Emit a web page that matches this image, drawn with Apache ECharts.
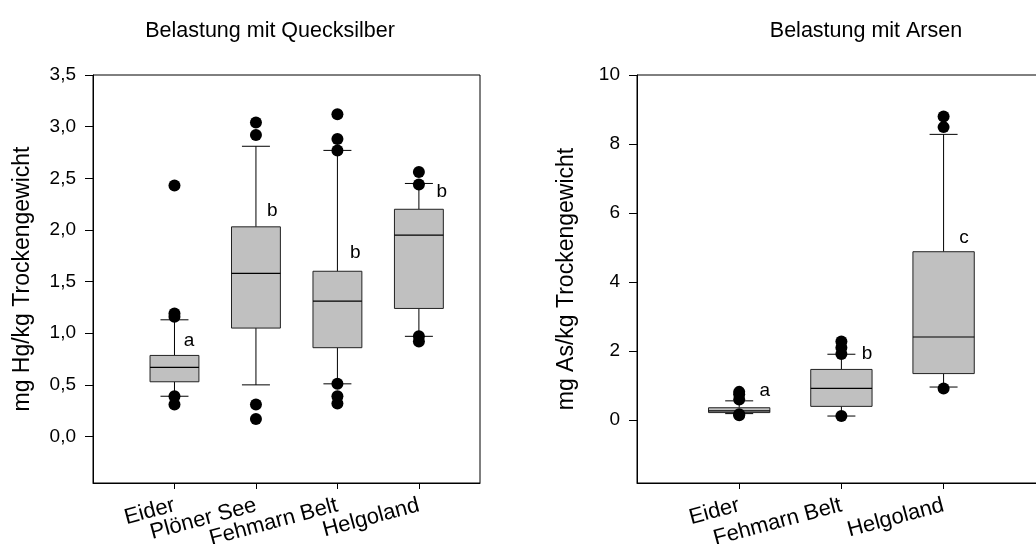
<!DOCTYPE html>
<html>
<head>
<meta charset="utf-8">
<script src="https://cdn.jsdelivr.net/npm/echarts@6/dist/echarts.min.js"></script>
<style>
html,body{margin:0;padding:0;background:#fff;}
#chart{width:1036px;height:544px;}
</style>
</head>
<body>
<div id="chart"></div>
<script>
// ---------- Data: Quecksilber (Hg) ----------
var hgTitle = 'Belastung mit Quecksilber';
var hgYName = 'mg Hg/kg Trockengewicht';
var hgCats = ['Eider', 'Plöner See', 'Fehmarn Belt', 'Helgoland'];
var hgLow  = [0.39, 0.50, 0.51, 0.97];
var hgQ1   = [0.53, 1.05, 0.86, 1.24];
var hgMed  = [0.67, 1.58, 1.31, 1.95];
var hgQ3   = [0.785, 2.03, 1.60, 2.20];
var hgHigh = [1.13, 2.81, 2.77, 2.45];
var hgOut  = [
  [2.43, 1.19, 1.16, 0.39, 0.31],
  [3.04, 2.92, 0.31, 0.17],
  [3.12, 2.88, 2.77, 0.51, 0.39, 0.32],
  [2.56, 2.44, 0.97, 0.92]
];
var hgLetters = ['a', 'b', 'b', 'b'];
var hgLetterX = [1.18, 2.20, 3.22, 4.28];
var hgLetterY = [0.93, 2.19, 1.78, 2.37];
var hgYTicks = [0, 0.5, 1.0, 1.5, 2.0, 2.5, 3.0, 3.5];

// ---------- Data: Arsen (As) ----------
var asTitle = 'Belastung mit Arsen';
var asYName = 'mg As/kg Trockengewicht';
var asCats = ['Eider', 'Fehmarn Belt', 'Helgoland'];
var asLow  = [0.19, 0.12, 0.96];
var asQ1   = [0.22, 0.40, 1.35];
var asMed  = [0.27, 0.92, 2.41];
var asQ3   = [0.36, 1.47, 4.88];
var asHigh = [0.56, 1.91, 8.28];
var asOut  = [
  [0.82, 0.75, 0.60, 0.17, 0.14],
  [2.28, 2.10, 1.92, 0.12],
  [8.80, 8.49, 0.92]
];
var asLetters = ['a', 'b', 'c'];
var asLetterX = [1.25, 2.25, 3.20];
var asLetterY = [0.84, 1.93, 5.28];
var asYTicks = [0, 2, 4, 6, 8, 10];

// ---------- Build ----------
var FONT = '"Liberation Sans", Arial, sans-serif';
var BOX_W = 0.6;   // in category units
var CAP_PX = 28;
var XLABEL_MARGIN = 22;
var XLABEL_ROT = 15 * Math.PI / 180;

function boxData(low, q1, med, q3, high) {
  return low.map(function (v, i) { return [i + 1, low[i], q1[i], med[i], q3[i], high[i]]; });
}
function outData(out) {
  var r = [];
  out.forEach(function (arr, i) { arr.forEach(function (v) { r.push([i + 1, v]); }); });
  return r;
}
function letterData(xs, ys, ls) {
  return xs.map(function (x, i) { return [x, ys[i], ls[i]]; });
}
function catData(cats, yMin) {
  return cats.map(function (c, i) { return [i + 1, yMin, c]; });
}
function renderBox(params, api) {
  var x = api.value(0);
  var lo = api.coord([x, api.value(1)]);
  var q1 = api.coord([x, api.value(2)]);
  var md = api.coord([x, api.value(3)]);
  var q3 = api.coord([x, api.value(4)]);
  var hi = api.coord([x, api.value(5)]);
  var w = api.size([BOX_W, 0])[0];
  var cx = lo[0];
  var ls = { stroke: '#000', lineWidth: 1 };
  return {
    type: 'group',
    children: [
      { type: 'line', shape: { x1: cx, y1: hi[1], x2: cx, y2: q3[1] }, style: ls },
      { type: 'line', shape: { x1: cx, y1: q1[1], x2: cx, y2: lo[1] }, style: ls },
      { type: 'line', shape: { x1: cx - CAP_PX / 2, y1: hi[1], x2: cx + CAP_PX / 2, y2: hi[1] }, style: ls },
      { type: 'line', shape: { x1: cx - CAP_PX / 2, y1: lo[1], x2: cx + CAP_PX / 2, y2: lo[1] }, style: ls },
      { type: 'rect', shape: { x: cx - w / 2, y: q3[1], width: w, height: q1[1] - q3[1] },
        style: { fill: '#c0c0c0', stroke: '#222', lineWidth: 1 } },
      { type: 'line', shape: { x1: cx - w / 2, y1: md[1], x2: cx + w / 2, y2: md[1] }, style: { stroke: '#000', lineWidth: 1.2 } }
    ]
  };
}
function renderLetter(params, api) {
  var p = api.coord([api.value(0), api.value(1)]);
  return {
    type: 'text',
    style: { x: p[0], y: p[1], text: api.value(2), fill: '#000', font: '19px ' + FONT,
      textAlign: 'center', textVerticalAlign: 'middle' }
  };
}
function renderCatLabel(params, api) {
  var p = api.coord([api.value(0), api.value(1)]);
  return {
    type: 'text',
    x: p[0], y: p[1] + XLABEL_MARGIN, rotation: XLABEL_ROT,
    style: { text: api.value(2), fill: '#000', font: '22px ' + FONT,
      textAlign: 'right', textVerticalAlign: 'middle' }
  };
}
function fmtComma(v) { return v.toFixed(1).replace('.', ','); }

function xAxisCfg(gridIndex, max, cats) {
  var vals = cats.map(function (c, i) { return i + 1; });
  return {
    type: 'value', gridIndex: gridIndex, min: 0, max: max,
    splitLine: { show: false },
    axisLine: { show: true, onZero: false, lineStyle: { color: '#000', width: 1 } },
    axisTick: { show: true, inside: false, length: 6, customValues: vals, lineStyle: { color: '#000' } },
    axisLabel: { show: false }
  };
}
function yAxisCfg(gridIndex, min, max, ticks, name, fmt) {
  return {
    type: 'value', gridIndex: gridIndex, min: min, max: max,
    name: name, nameLocation: 'middle', nameGap: 59,
    nameTextStyle: { color: '#000', fontSize: 23, fontFamily: FONT },
    splitLine: { show: false },
    axisLine: { show: true, lineStyle: { color: '#000', width: 1 } },
    axisTick: { show: true, inside: false, length: 8, customValues: ticks, lineStyle: { color: '#000' } },
    axisLabel: { show: true, customValues: ticks, margin: 17, hideOverlap: false,
      showMinLabel: true, showMaxLabel: true, color: '#000', fontSize: 19, fontFamily: FONT,
      formatter: fmt }
  };
}

var HG_YMIN = -0.45, HG_YMAX = 3.5;
var AS_YMIN = -1.82, AS_YMAX = 10;

var chart = echarts.init(document.getElementById('chart'), null, { renderer: 'canvas' });
var option = {
  animation: false,
  backgroundColor: '#fff',
  graphic: [
    { type: 'text', x: 270, y: 31,
      style: { text: hgTitle, fill: '#000', font: '21.5px ' + FONT, textAlign: 'center', textVerticalAlign: 'middle' } },
    { type: 'text', x: 866, y: 31,
      style: { text: asTitle, fill: '#000', font: '21.5px ' + FONT, textAlign: 'center', textVerticalAlign: 'middle' } }
  ],
  grid: [
    { left: 93, top: 75, width: 387, height: 408, outerBoundsMode: 'none', containLabel: false,
      show: true, borderColor: '#000', borderWidth: 1, backgroundColor: 'transparent' },
    { left: 637, top: 75, width: 400, height: 408, outerBoundsMode: 'none', containLabel: false,
      show: true, borderColor: '#000', borderWidth: 1, backgroundColor: 'transparent' }
  ],
  xAxis: [
    xAxisCfg(0, 4.75, hgCats),
    xAxisCfg(1, 3.914, asCats)
  ],
  yAxis: [
    yAxisCfg(0, HG_YMIN, HG_YMAX, hgYTicks, hgYName, fmtComma),
    yAxisCfg(1, AS_YMIN, AS_YMAX, asYTicks, asYName, function (v) { return String(v); })
  ],
  series: [
    { type: 'custom', xAxisIndex: 0, yAxisIndex: 0, renderItem: renderBox,
      data: boxData(hgLow, hgQ1, hgMed, hgQ3, hgHigh), encode: { x: 0, y: [1, 2, 3, 4, 5] }, z: 2 },
    { type: 'scatter', xAxisIndex: 0, yAxisIndex: 0, data: outData(hgOut), symbolSize: 12,
      itemStyle: { color: '#000', opacity: 1 }, z: 3 },
    { type: 'custom', xAxisIndex: 0, yAxisIndex: 0, renderItem: renderLetter,
      data: letterData(hgLetterX, hgLetterY, hgLetters), encode: { x: 0, y: 1 }, z: 4 },
    { type: 'custom', xAxisIndex: 0, yAxisIndex: 0, renderItem: renderCatLabel, clip: false,
      data: catData(hgCats, HG_YMIN), encode: { x: 0, y: 1 }, z: 4 },

    { type: 'custom', xAxisIndex: 1, yAxisIndex: 1, renderItem: renderBox,
      data: boxData(asLow, asQ1, asMed, asQ3, asHigh), encode: { x: 0, y: [1, 2, 3, 4, 5] }, z: 2 },
    { type: 'scatter', xAxisIndex: 1, yAxisIndex: 1, data: outData(asOut), symbolSize: 12,
      itemStyle: { color: '#000', opacity: 1 }, z: 3 },
    { type: 'custom', xAxisIndex: 1, yAxisIndex: 1, renderItem: renderLetter,
      data: letterData(asLetterX, asLetterY, asLetters), encode: { x: 0, y: 1 }, z: 4 },
    { type: 'custom', xAxisIndex: 1, yAxisIndex: 1, renderItem: renderCatLabel, clip: false,
      data: catData(asCats, AS_YMIN), encode: { x: 0, y: 1 }, z: 4 }
  ]
};
chart.setOption(option);
</script>
</body>
</html>
